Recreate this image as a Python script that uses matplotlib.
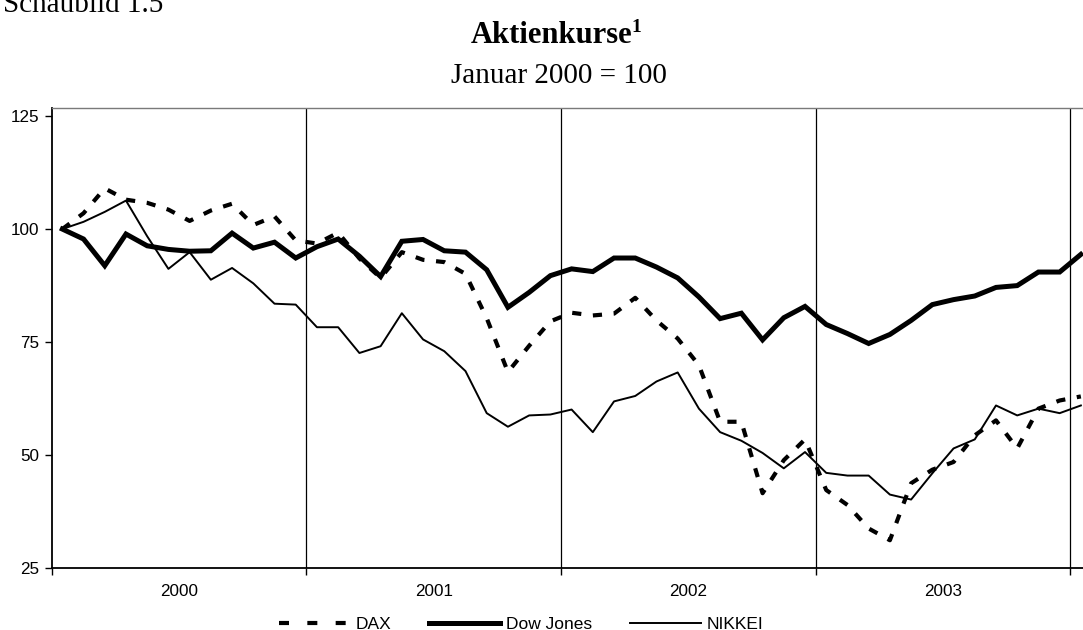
import numpy as np
import matplotlib
matplotlib.use('Agg')
import matplotlib.pyplot as plt
from matplotlib.lines import Line2D

# monthly index values, Jan 2000 = 100 (Jan 2000 .. Jan 2004)
dax = [100, 103.5, 109, 106.5, 105.8, 104.3, 101.8, 104.1, 105.6, 100.9, 102.8, 97.5,
       96.8, 99.2, 93.5, 89.2, 94.9, 93.2, 92.7, 90.1, 80.3, 68.4, 74.2, 79.6,
       81.5, 80.9, 81.3, 84.8, 79.8, 75.8, 69.9, 57.4, 57.4, 41.6, 48.9, 53.5,
       42.3, 39.0, 33.8, 31.2, 43.8, 46.8, 48.5, 54.4, 57.7, 51.5, 60.3, 62.1, 63.0]
dow = [100, 97.8, 91.9, 98.9, 96.3, 95.5, 95.1, 95.2, 99.1, 95.8, 97.1, 93.6,
       96.1, 97.8, 94.0, 89.5, 97.3, 97.7, 95.2, 94.9, 91.0, 82.7, 86.0, 89.7,
       91.2, 90.6, 93.6, 93.6, 91.6, 89.2, 85.0, 80.2, 81.4, 75.5, 80.4, 82.9,
       78.9, 76.9, 74.7, 76.7, 79.8, 83.3, 84.4, 85.2, 87.1, 87.5, 90.5, 90.5, 94.4]
nikkei = [100, 101.6, 103.8, 106.3, 98.4, 91.2, 94.9, 88.8, 91.4, 88.0, 83.5, 83.3,
          78.3, 78.3, 72.6, 74.1, 81.4, 75.6, 73.0, 68.6, 59.3, 56.3, 58.8, 59.0,
          60.1, 55.1, 61.9, 63.1, 66.3, 68.3, 60.3, 55.1, 53.2, 50.5, 47.1, 50.7,
          46.1, 45.5, 45.5, 41.3, 40.2, 46.0, 51.5, 53.5, 61.0, 58.8, 60.3, 59.3, 61.0]
years = ['2000', '2001', '2002', '2003']
yticks = [25, 50, 75, 100, 125]

sans = 'Liberation Sans'
serif = 'Liberation Serif'

W, H = 1083, 630
fig = plt.figure(figsize=(W / 100, H / 100), dpi=100)
ax = fig.add_axes([51.7 / W, 1 - 568.3 / H, 50 * 21.22 / W, (568.3 - 108.3) / H])

x = np.arange(len(dow)) + 0.5
l_dax, = ax.plot(x, dax, color='black', lw=3, dashes=(2.2, 2.8),
                 dash_capstyle='butt', label='DAX')
l_dow, = ax.plot(x, dow, color='black', lw=3.6, solid_joinstyle='miter', label='Dow Jones')
l_nik, = ax.plot(x, nikkei, color='black', lw=1.4, label='NIKKEI')

for b in [12, 24, 36, 48]:
    ax.axvline(b, color='black', lw=0.9, zorder=0)

ax.set_xlim(0, 50)
ax.set_ylim(25, 126.7)
ax.set_yticks(yticks)
ax.set_yticklabels([str(v) for v in yticks], fontfamily=sans, fontsize=12.3)
ax.tick_params(axis='y', length=5, width=1, pad=4, colors='black')

ax.set_xticks([0, 12, 24, 36, 48])
ax.set_xticklabels([''] * 5)
ax.set_xticks([6, 18, 30, 42], minor=True)
ax.set_xticklabels(years, minor=True, fontfamily=sans, fontsize=12.3)
ax.tick_params(axis='x', which='major', length=5, width=1)
ax.tick_params(axis='x', which='minor', length=0, pad=11)

for s in ['left', 'bottom']:
    ax.spines[s].set_linewidth(1.3)
    ax.spines[s].set_color('black')
ax.spines['top'].set_color('#7a7a7a')
ax.spines['top'].set_linewidth(1.0)
ax.spines['right'].set_visible(False)

fig.text(3 / W, 1 - 12 / H, 'Schaubild 1.5', fontfamily=serif, fontsize=21,
         ha='left', va='baseline')
fig.text(551.5 / W, 1 - 43 / H, 'Aktienkurse', fontfamily=serif, fontsize=22,
         fontweight='bold', ha='center', va='baseline')
fig.text(631 / W, 1 - 32 / H, '1', fontfamily=serif, fontsize=14,
         fontweight='bold', ha='left', va='baseline')
fig.text(559 / W, 1 - 83 / H, 'Januar 2000 = 100', fontfamily=serif, fontsize=21,
         ha='center', va='baseline')

h_dax = Line2D([], [], color='black', lw=3, dashes=(2.4, 4.4), dash_capstyle='butt')
leg = fig.legend([h_dax, l_dow, l_nik], ['DAX', 'Dow Jones', 'NIKKEI'],
                 loc='center', bbox_to_anchor=(0.481, 1 - 624 / H), ncol=3,
                 frameon=False, handlelength=4.1, handletextpad=0.3,
                 columnspacing=2.2, prop={'family': sans, 'size': 12.5})

fig.savefig('out.png', dpi=100)
